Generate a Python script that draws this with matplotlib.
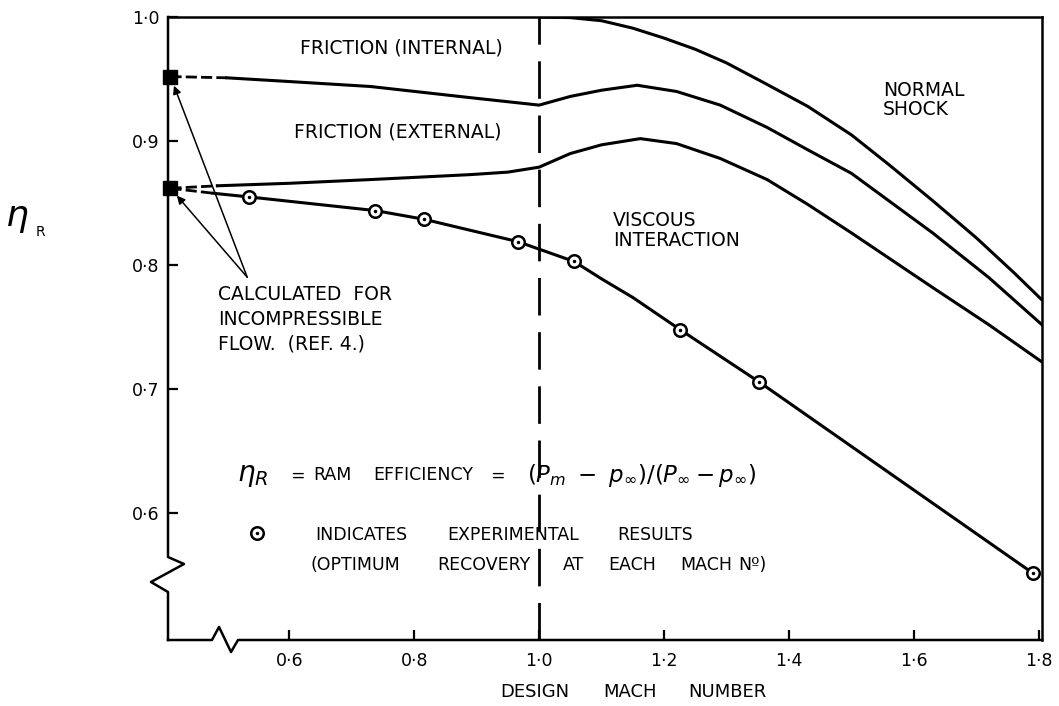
import numpy as np
import matplotlib
matplotlib.use('Agg')
from matplotlib import pyplot as plt

# design Mach number axis and ram efficiency values
shock_m = [1.00, 1.05, 1.10, 1.15, 1.20, 1.25, 1.30, 1.36, 1.43, 1.50, 1.56, 1.63, 1.70, 1.76, 1.805]
shock_eta = [1.000, 0.9995, 0.997, 0.991, 0.983, 0.974, 0.963, 0.947, 0.928, 0.905, 0.881, 0.852, 0.822, 0.794, 0.772]

fint_m = [0.50, 0.60, 0.73, 0.89, 1.00, 1.05, 1.10, 1.157, 1.22, 1.29, 1.365, 1.43, 1.50, 1.63, 1.72, 1.805]
fint_eta = [0.951, 0.948, 0.944, 0.935, 0.929, 0.936, 0.941, 0.945, 0.940, 0.929, 0.911, 0.893, 0.874, 0.826, 0.790, 0.752]

fext_m = [0.485, 0.60, 0.73, 0.89, 0.95, 1.00, 1.05, 1.10, 1.162, 1.22, 1.29, 1.365, 1.43, 1.50, 1.63, 1.72, 1.805]
fext_eta = [0.864, 0.866, 0.869, 0.873, 0.875, 0.879, 0.890, 0.897, 0.902, 0.898, 0.886, 0.869, 0.849, 0.826, 0.782, 0.752, 0.722]

exp_m = [0.536, 0.738, 0.816, 0.966, 1.056, 1.226, 1.352, 1.790]
exp_eta = [0.855, 0.844, 0.837, 0.819, 0.803, 0.748, 0.706, 0.552]
visc_m = [0.478, 0.536, 0.738, 0.816, 0.966, 1.056, 1.10, 1.15, 1.226, 1.352, 1.790]
visc_eta = [0.858, 0.855, 0.844, 0.837, 0.819, 0.803, 0.789, 0.774, 0.748, 0.706, 0.552]

# incompressible values (plotted on the broken axis)
inc_m = 0.41
inc_eta = [0.952, 0.862]

xticks = [0.6, 0.8, 1.0, 1.2, 1.4, 1.6, 1.8]
xlabels = ['0·6', '0·8', '1·0', '1·2', '1·4', '1·6', '1·8']
yticks = [0.6, 0.7, 0.8, 0.9, 1.0]
ylabels = ['0·6', '0·7', '0·8', '0·9', '1·0']


def px_x(x):
    # pixel column of the original drawing -> Mach number
    return 1 + (x - 539) / 625.0


def px_y(y):
    return 1 - (y - 17) / 1240.0


plt.rcParams['font.family'] = ['DejaVu Sans']
fig = plt.figure(figsize=(10.59, 7.06), dpi=100)
ax = fig.add_axes([168/1059, 1-640/706, 874/1059, 623/706])
ax.set_xlim(0.406, 1.805)
ax.set_ylim(0.498, 1.0)

lw = 2.2
ax.plot(shock_m, shock_eta, color='black', lw=lw, solid_capstyle='round')
ax.plot(fint_m, fint_eta, color='black', lw=lw)
ax.plot(fext_m, fext_eta, color='black', lw=lw)
ax.plot(visc_m, visc_eta, color='black', lw=lw)

# dashed links to incompressible values
ax.plot([inc_m, fint_m[0]], [inc_eta[0], fint_eta[0]], color='black', lw=2, dashes=(4, 1.5))
ax.plot([inc_m, fext_m[0]], [inc_eta[1], fext_eta[0]], color='black', lw=2, dashes=(4, 1.5))
ax.plot([inc_m, visc_m[0]], [inc_eta[1], visc_eta[0]], color='black', lw=2, dashes=(4, 1.5))
ax.plot([inc_m, inc_m], inc_eta, 's', color='black', ms=10, clip_on=False, zorder=5)

ax.plot(exp_m, exp_eta, 'o', ms=9, mfc='white', mec='black', mew=1.8, zorder=4, clip_on=False)
ax.plot(exp_m, exp_eta, '.', ms=3, color='black', zorder=5, clip_on=False)

# sonic line
ax.axvline(1.0, color='black', lw=2, dashes=(13.5, 6))

# axes with breaks
for s in ['left', 'bottom']:
    ax.spines[s].set_visible(False)
for s in ['top', 'right']:
    ax.spines[s].set_linewidth(1.8)
ax.plot([0, 0, 0.0183, -0.0195, 0, 0], [1, 0.1332, 0.122, 0.0931, 0.077, 0],
        transform=ax.transAxes, color='black', lw=1.8, clip_on=False)
ax.plot([0, 0.0503, 0.0584, 0.0721, 0.0801, 1], [0, 0, 0.0209, -0.0193, 0, 0],
        transform=ax.transAxes, color='black', lw=1.8, clip_on=False)

ax.set_xticks(xticks)
ax.set_xticklabels(xlabels)
ax.set_yticks(yticks)
ax.set_yticklabels(ylabels)
ax.tick_params(axis='both', direction='in', length=7, width=1.6, labelsize=12.5)
ax.tick_params(axis='x', pad=9)
ax.tick_params(axis='y', pad=6)

fs = 13.5
ax.text(px_x(401), px_y(48), 'FRICTION (INTERNAL)', fontsize=fs, ha='center', va='center')
ax.text(px_x(398), px_y(132), 'FRICTION (EXTERNAL)', fontsize=fs, ha='center', va='center')
ax.text(px_x(883), px_y(100), 'NORMAL\nSHOCK', fontsize=fs, ha='left', va='center', linespacing=1.05)
ax.text(px_x(613), px_y(230), 'VISCOUS\nINTERACTION', fontsize=fs, ha='left', va='center', linespacing=1.05)
ax.text(px_x(218), px_y(319), 'CALCULATED  FOR\nINCOMPRESSIBLE\nFLOW.  (REF. 4.)', fontsize=fs,
        ha='left', va='center', linespacing=1.4)

# arrows to the incompressible points
for e in inc_eta:
    ax.annotate('', xy=(inc_m, e), xytext=(px_x(247), px_y(277)),
                arrowprops=dict(arrowstyle='-|>', lw=1.1, color='black',
                                mutation_scale=12, shrinkA=0, shrinkB=7))

# definition and key, words placed as lettered on the original
ax.text(px_x(237), px_y(475), r'$\eta_R$', fontsize=20, ha='left', va='center')
for word, x in [('=', 290), ('RAM', 313), ('EFFICIENCY', 373), ('=', 490)]:
    ax.text(px_x(x), px_y(475), word, fontsize=12.5, ha='left', va='center')
ax.text(px_x(527), px_y(475), r'$(P_m\ -\ p_\infty)/(P_\infty - p_\infty)$', fontsize=16.5,
        ha='left', va='center')
ax.plot([px_x(257)], [px_y(533)], 'o', ms=9, mfc='white', mec='black', mew=1.8)
ax.plot([px_x(257)], [px_y(533)], '.', ms=3, color='black')
for word, x in [('INDICATES', 315), ('EXPERIMENTAL', 447), ('RESULTS', 617)]:
    ax.text(px_x(x), px_y(535), word, fontsize=12.5, ha='left', va='center')
for word, x in [('(OPTIMUM', 310), ('RECOVERY', 437), ('AT', 563), ('EACH', 608),
                ('MACH', 680), ('Nº)', 738)]:
    ax.text(px_x(x), px_y(565), word, fontsize=12.5, ha='left', va='center')

for word, x in [('DESIGN', 500), ('MACH', 603), ('NUMBER', 688)]:
    fig.text(x/1059, 1-692/706, word, fontsize=13, ha='left', va='center')
fig.text(17/1059, 1-218/706, r'$\eta$', fontsize=26, ha='center', va='center')
fig.text(40/1059, 1-232/706, 'R', fontsize=10, ha='center', va='center')

fig.savefig('out.png', dpi=100)
